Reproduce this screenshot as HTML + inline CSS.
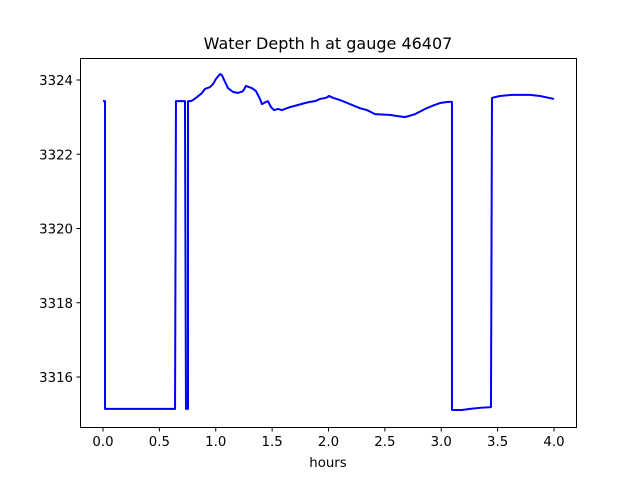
<!DOCTYPE html>
<html><head><meta charset="utf-8"><style>
body{margin:0;background:#fff}
svg{display:block;font-family:"DejaVu Sans","Liberation Sans",sans-serif}
</style></head><body>
<svg id="chart" width="640" height="480">
<rect width="640" height="480" fill="#fff"/>
<text x="328" y="49" font-size="16" text-anchor="middle">Water Depth h at gauge 46407</text>
<g id="ticks"></g>
<polyline id="line" fill="none" stroke="#0000ff" stroke-width="2" stroke-linejoin="round"/>
<rect x="80.5" y="58.5" width="496" height="369" fill="none" stroke="#000" stroke-width="1"/>
<text x="328" y="467" font-size="13.3" text-anchor="middle">hours</text>
</svg>
<script>
const hours=[0,0.018,0.018,0.639,0.647,0.727,0.736,0.754,0.754,0.780,0.798,0.834,0.878,0.905,0.949,0.976,1.002,1.038,1.055,1.082,1.109,1.153,1.197,1.242,1.268,1.322,1.357,1.392,1.410,1.446,1.463,1.490,1.517,1.552,1.588,1.632,1.659,1.721,1.792,1.836,1.880,1.925,1.978,2.004,2.040,2.102,2.191,2.279,2.341,2.412,2.545,2.608,2.678,2.767,2.856,2.918,2.989,3.060,3.095,3.095,3.184,3.255,3.344,3.441,3.450,3.521,3.627,3.787,3.876,4.0];
const depth=[3323.43,3323.43,3315.14,3315.14,3323.43,3323.43,3315.14,3315.14,3323.43,3323.43,3323.46,3323.54,3323.65,3323.76,3323.81,3323.89,3324.03,3324.16,3324.13,3323.95,3323.78,3323.68,3323.65,3323.70,3323.84,3323.78,3323.70,3323.49,3323.35,3323.41,3323.43,3323.27,3323.19,3323.22,3323.19,3323.24,3323.27,3323.32,3323.38,3323.41,3323.43,3323.49,3323.52,3323.57,3323.52,3323.46,3323.35,3323.24,3323.19,3323.08,3323.06,3323.03,3323.00,3323.08,3323.22,3323.30,3323.38,3323.41,3323.41,3315.11,3315.11,3315.14,3315.17,3315.19,3323.52,3323.57,3323.60,3323.60,3323.57,3323.49];
const xTicks=[0,0.5,1,1.5,2,2.5,3,3.5,4];
const xLabels=["0.0","0.5","1.0","1.5","2.0","2.5","3.0","3.5","4.0"];
const yTicks=[3316,3318,3320,3322,3324];
const yLabels=["3316","3318","3320","3322","3324"];
const X=h=>103+h*112.75;
const Y=v=>80+(3324-v)*37.125;
const ns="http://www.w3.org/2000/svg";
const g=document.getElementById('ticks');
xTicks.forEach((t,i)=>{
  const l=document.createElementNS(ns,'line');
  l.setAttribute('x1',X(t));l.setAttribute('x2',X(t));l.setAttribute('y1',427.5);l.setAttribute('y2',431.5);l.setAttribute('stroke','#000');
  
  
  g.appendChild(l);
  const tx=document.createElementNS(ns,'text');
  tx.setAttribute('x',X(t));tx.setAttribute('y',446);tx.setAttribute('font-size','13.3');tx.setAttribute('text-anchor','middle');
  tx.textContent=xLabels[i];
  
  
  g.appendChild(tx);
});
yTicks.forEach((t,i)=>{
  const l=document.createElementNS(ns,'line');
  l.setAttribute('x1',76.5);l.setAttribute('x2',80.5);l.setAttribute('y1',Y(t));l.setAttribute('y2',Y(t));l.setAttribute('stroke','#000');
  
  
  g.appendChild(l);
  const tx=document.createElementNS(ns,'text');
  tx.setAttribute('x',73);tx.setAttribute('y',Y(t)+5);tx.setAttribute('font-size','13.3');tx.setAttribute('text-anchor','end');
  tx.textContent=yLabels[i];
  
  
  g.appendChild(tx);
});
document.getElementById('line').setAttribute('points',hours.map((h,i)=>X(h)+','+Y(depth[i])).join(' '));
</script>
</body></html>
